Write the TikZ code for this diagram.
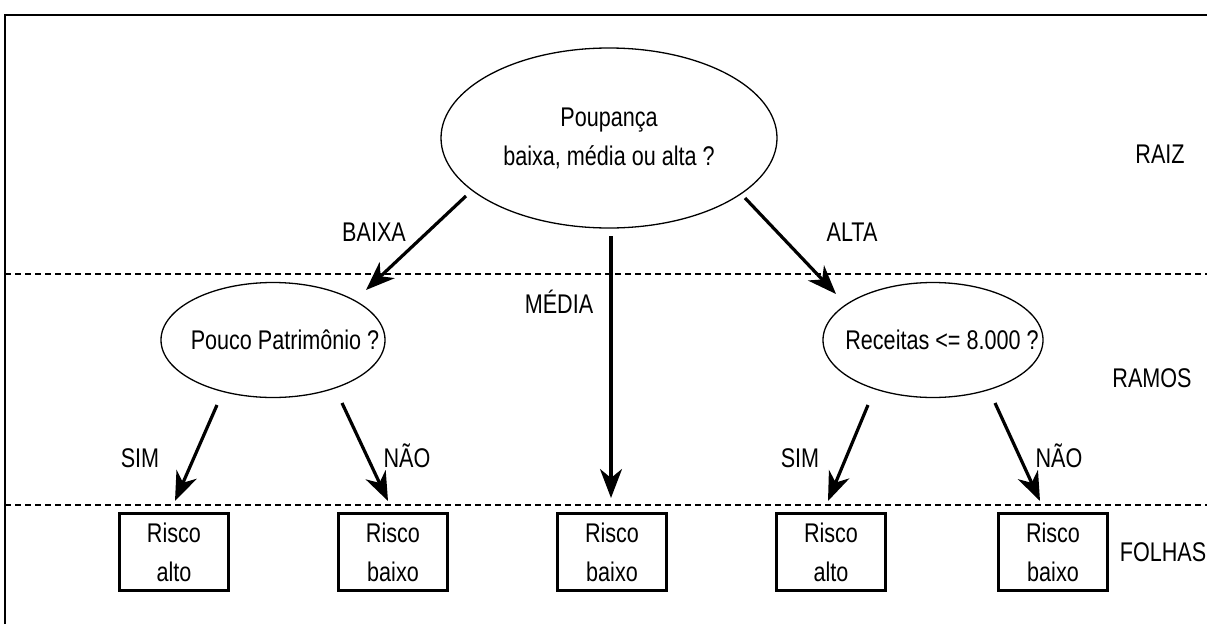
\documentclass[tikz,border=0pt]{standalone}
\usepackage{fontspec}
\setmainfont{Liberation Sans}[FakeStretch=0.8]
\usetikzlibrary{arrows.meta,shapes.geometric}
% zero-width box so the ellipse size is set by its minimum size only
\newcommand{\nowidth}[1]{\makebox[0pt]{#1}}
\begin{document}
\begin{tikzpicture}[x=1pt,y=-1pt,
  txt/.style={font=\fontsize{27}{39}\selectfont, inner sep=0pt},
  question/.style={txt, draw, ellipse, line width=1.3pt, align=center},
  leaf/.style={txt, draw, line width=2.6pt, minimum width=109pt, minimum height=77pt, align=center},
  branch/.style={line width=3.2pt, -{Stealth[length=29pt,width=22pt,inset=9pt]}},
  level/.style={dashed, line width=1.3pt, dash pattern=on 6pt off 4pt}]
\useasboundingbox (0,0) rectangle (1207,624);
% frame (top and left edges)
\draw[line width=2pt] (5,624) -- (5,15) -- (1207,15);
% level separators
\draw[level] (5,274) -- (1207,274);
\draw[level] (5,505) -- (1207,505);
% questions
\node[question, minimum width=336pt, minimum height=180pt] (root) at (609,138) {\nowidth{Poupança}\\\nowidth{baixa, média ou alta ?}};
\node[question, minimum width=224pt, minimum height=115pt] (pat) at (273,340) {\nowidth{\hspace*{24pt}Pouco Patrimônio ?}};
\node[question, minimum width=220pt, minimum height=115pt] (rec) at (933,340) {\nowidth{\hspace*{18pt}Receitas <= 8.000 ?}};
% leaves
\node[leaf] (l1) at (174,552) {Risco\\alto};
\node[leaf] (l2) at (393,552) {Risco\\baixo};
\node[leaf] (l3) at (612,552) {Risco\\baixo};
\node[leaf] (l4) at (831,552) {Risco\\alto};
\node[leaf] (l5) at (1053,552) {Risco\\baixo};
% connector ends
\coordinate (bA) at (466,196); \coordinate (bB) at (366,290);
\coordinate (mA) at (611,236); \coordinate (mB) at (611,498);
\coordinate (aA) at (745,198); \coordinate (aB) at (836,294);
\coordinate (s1A) at (217,405); \coordinate (s1B) at (175,501);
\coordinate (n1A) at (342,403); \coordinate (n1B) at (388,501);
\coordinate (s2A) at (868,405); \coordinate (s2B) at (828,501);
\coordinate (n2A) at (995,403); \coordinate (n2B) at (1040,501);
\draw[branch] (bA) -- (bB);
\draw[branch] (mA) -- (mB);
\draw[branch] (aA) -- (aB);
\draw[branch] (s1A) -- (s1B);
\draw[branch] (n1A) -- (n1B);
\draw[branch] (s2A) -- (s2B);
\draw[branch] (n2A) -- (n2B);
% branch labels
\node[txt, anchor=base] (tb) at (374,241) {BAIXA};
\node[txt, anchor=base] (ta) at (852,241) {ALTA};
\node[txt, anchor=base] (tm) at (559,313) {MÉDIA};
\node[txt, anchor=base] (ts1) at (140,467) {SIM};
\node[txt, anchor=base] (tn1) at (407,467) {NÃO};
\node[txt, anchor=base] (ts2) at (800,467) {SIM};
\node[txt, anchor=base] (tn2) at (1059,467) {NÃO};
% level names
\node[txt, anchor=base] (raiz) at (1160,163) {RAIZ};
\node[txt, anchor=base] (ramos) at (1152,387) {RAMOS};
\node[txt, anchor=base] (folhas) at (1163,561) {FOLHAS};
\end{tikzpicture}
\end{document}
